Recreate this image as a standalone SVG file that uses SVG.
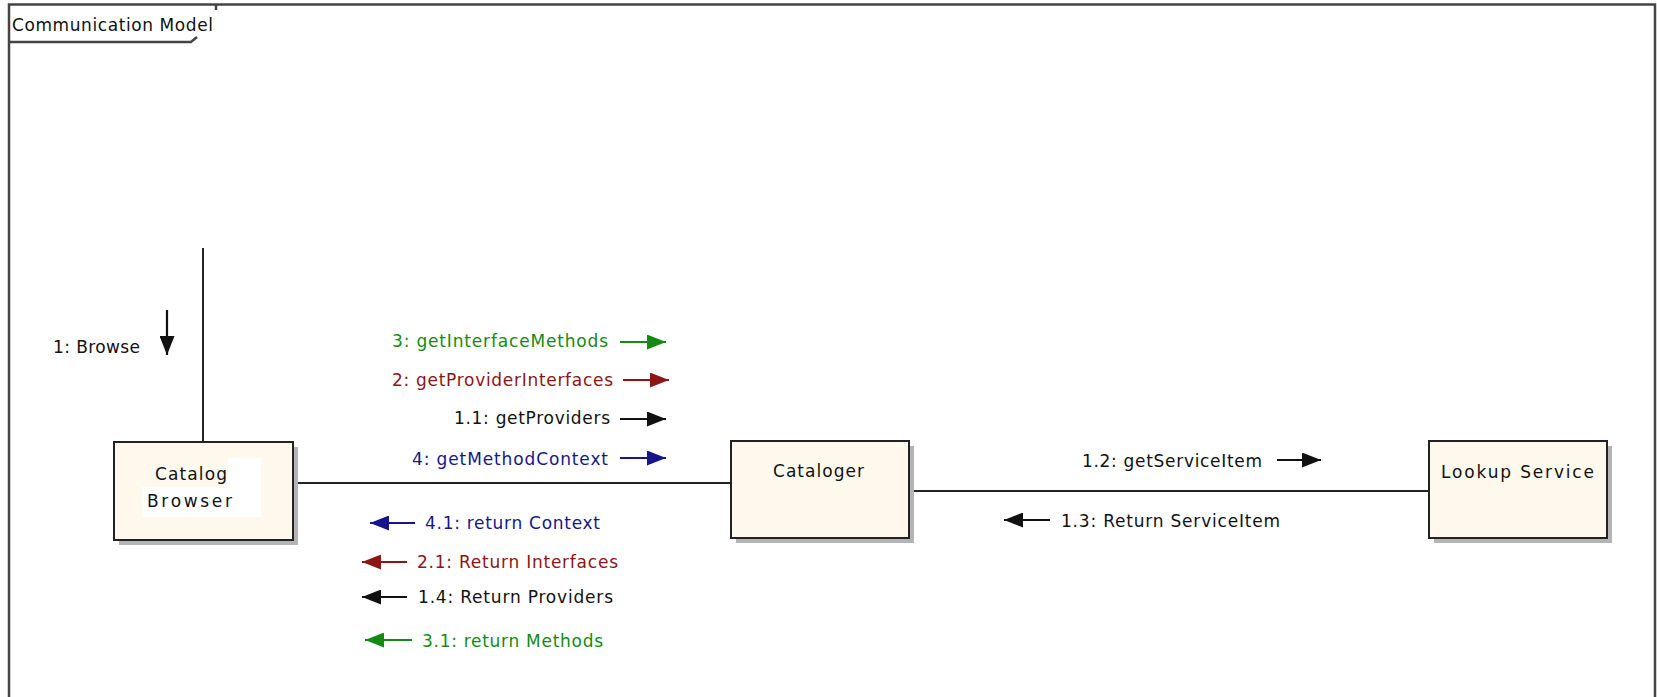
<svg xmlns="http://www.w3.org/2000/svg" width="1657" height="697" viewBox="0 0 1657 697">
  <style>
    text { font-family: "DejaVu Sans", "Liberation Sans", sans-serif; font-size: 17px; fill: #111; }
    .frame { fill: none; stroke: #444; stroke-width: 2.5; }
    .node rect.body { fill: #FFF9ED; stroke: #222; stroke-width: 2; }
    .node rect.shadow { fill: #b4b4b4; }
    .link { stroke: #222; stroke-width: 2; fill: none; }
    .msg { stroke-width: 2.2; fill: none; }
    .green { fill: #148a14; }
    .red { fill: #8a1616; }
    .blue { fill: #16168a; }
    .black { fill: #111; }
  </style>
  <defs>
    <marker id="ah-black" markerUnits="userSpaceOnUse" markerWidth="19" markerHeight="15" refX="19" refY="7.5" orient="auto">
      <path d="M0,0 L19,7.5 L0,15 Z" fill="#111"/>
    </marker>
    <marker id="ah-green" markerUnits="userSpaceOnUse" markerWidth="19" markerHeight="15" refX="19" refY="7.5" orient="auto">
      <path d="M0,0 L19,7.5 L0,15 Z" fill="#148a14"/>
    </marker>
    <marker id="ah-red" markerUnits="userSpaceOnUse" markerWidth="19" markerHeight="15" refX="19" refY="7.5" orient="auto">
      <path d="M0,0 L19,7.5 L0,15 Z" fill="#8a1616"/>
    </marker>
    <marker id="ah-blue" markerUnits="userSpaceOnUse" markerWidth="19" markerHeight="15" refX="19" refY="7.5" orient="auto">
      <path d="M0,0 L19,7.5 L0,15 Z" fill="#16168a"/>
    </marker>
  </defs>

  <rect width="1657" height="697" fill="#fff"/>

  <!-- diagram frame with name tab -->
  <g id="frame">
    <path class="frame" d="M9,700 V4.5 H1655 V700"/>
    <path class="frame" d="M9,42 H191 L197,37" stroke-width="2"/>
    <path class="frame" d="M216,4 V10" stroke-width="2"/>
    <text x="12" y="31" textLength="201">Communication Model</text>
  </g>

  <!-- links and messages -->
  <g id="connectors">
    <line class="link" x1="203" y1="248" x2="203" y2="442"/>
    <line class="link" x1="293" y1="483" x2="731" y2="483"/>
    <line class="link" x1="909" y1="491" x2="1429" y2="491"/>

    <!-- 1: Browse -->
    <line class="msg" stroke="#111" x1="167" y1="310" x2="167" y2="355" marker-end="url(#ah-black)"/>
    <text x="53" y="353" textLength="87">1: Browse</text>

    <!-- Catalog Browser -> Cataloger -->
    <line class="msg" stroke="#148a14" x1="620" y1="342" x2="666" y2="342" marker-end="url(#ah-green)"/>
    <text class="green" x="392" y="347" textLength="216">3: getInterfaceMethods</text>
    <line class="msg" stroke="#8a1616" x1="623" y1="380" x2="669" y2="380" marker-end="url(#ah-red)"/>
    <text class="red" x="392" y="386" textLength="221">2: getProviderInterfaces</text>
    <line class="msg" stroke="#111" x1="620" y1="419" x2="666" y2="419" marker-end="url(#ah-black)"/>
    <text class="black" x="454" y="424" textLength="156">1.1: getProviders</text>
    <line class="msg" stroke="#16168a" x1="620" y1="458" x2="666" y2="458" marker-end="url(#ah-blue)"/>
    <text class="blue" x="412" y="465" textLength="196">4: getMethodContext</text>

    <!-- Cataloger -> Catalog Browser -->
    <line class="msg" stroke="#16168a" x1="415" y1="523" x2="370" y2="523" marker-end="url(#ah-blue)"/>
    <text class="blue" x="425" y="529" textLength="175">4.1: return Context</text>
    <line class="msg" stroke="#8a1616" x1="407" y1="562" x2="362" y2="562" marker-end="url(#ah-red)"/>
    <text class="red" x="417" y="568" textLength="201">2.1: Return Interfaces</text>
    <line class="msg" stroke="#111" x1="407" y1="597" x2="362" y2="597" marker-end="url(#ah-black)"/>
    <text class="black" x="418" y="603" textLength="195">1.4: Return Providers</text>
    <line class="msg" stroke="#148a14" x1="412" y1="640" x2="365" y2="640" marker-end="url(#ah-green)"/>
    <text class="green" x="422" y="647" textLength="181">3.1: return Methods</text>

    <!-- Cataloger <-> Lookup Service -->
    <line class="msg" stroke="#111" x1="1277" y1="460" x2="1321" y2="460" marker-end="url(#ah-black)"/>
    <text class="black" x="1082" y="467" textLength="180">1.2: getServiceItem</text>
    <line class="msg" stroke="#111" x1="1050" y1="520" x2="1004" y2="520" marker-end="url(#ah-black)"/>
    <text class="black" x="1061" y="527" textLength="219">1.3: Return ServiceItem</text>
  </g>

  <!-- nodes -->
  <g id="catalog-browser" class="node">
    <rect class="shadow" x="119" y="447" width="179" height="98"/>
    <rect class="body" x="114" y="442" width="179" height="98"/>
    <rect x="228" y="458" width="33" height="29" fill="#fff"/>
    <rect x="142" y="487" width="119" height="30" fill="#fff"/>
    <text x="155" y="480" textLength="72">Catalog</text>
    <text x="147" y="507" textLength="85">Browser</text>
  </g>

  <g id="cataloger" class="node">
    <rect class="shadow" x="736" y="446" width="178" height="97"/>
    <rect class="body" x="731" y="441" width="178" height="97"/>
    <text x="773" y="477" textLength="91">Cataloger</text>
  </g>

  <g id="lookup-service" class="node">
    <rect class="shadow" x="1434" y="446" width="178" height="97"/>
    <rect class="body" x="1429" y="441" width="178" height="97"/>
    <text x="1441" y="478" textLength="153">Lookup Service</text>
  </g>
</svg>
